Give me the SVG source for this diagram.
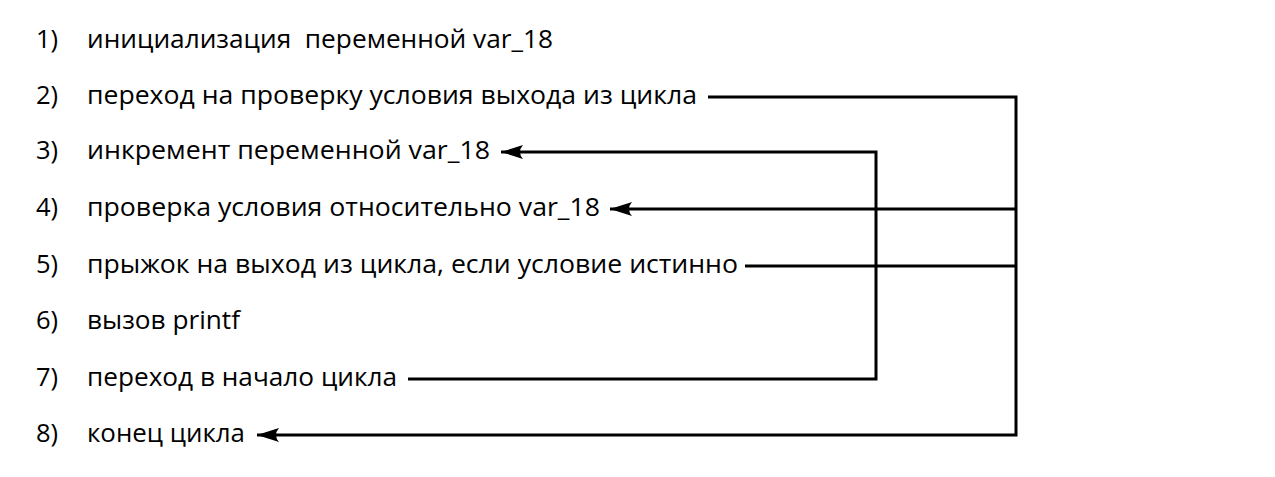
<svg xmlns="http://www.w3.org/2000/svg" width="1275" height="477" viewBox="0 0 1275 477">
<style>
text{font-family:"Open Sans","Liberation Sans",sans-serif;font-size:25.5px;fill:#000;white-space:pre}
.c{fill:none;stroke:#000;stroke-width:3}
</style>
<defs>
<marker id="ah" markerWidth="24" markerHeight="14" refX="22" refY="7" orient="auto" markerUnits="userSpaceOnUse">
<path d="M0,0 Q6,7 0,14 L22,7 Z" fill="#000"/>
</marker>
</defs>
<rect width="1275" height="477" fill="#fff"/>
<g id="n1"><text x="36" y="48">1)</text><text x="87" y="48" textLength="466" lengthAdjust="spacingAndGlyphs" xml:space="preserve">инициализация  переменной var_18</text></g>
<g id="n2"><text x="36" y="104">2)</text><text x="87" y="104" textLength="610" lengthAdjust="spacingAndGlyphs">переход на проверку условия выхода из цикла</text></g>
<g id="n3"><text x="36" y="159">3)</text><text x="87" y="159" textLength="403" lengthAdjust="spacingAndGlyphs">инкремент переменной var_18</text></g>
<g id="n4"><text x="36" y="216">4)</text><text x="87" y="216" textLength="513" lengthAdjust="spacingAndGlyphs">проверка условия относительно var_18</text></g>
<g id="n5"><text x="36" y="273">5)</text><text x="87" y="273" textLength="651" lengthAdjust="spacingAndGlyphs">прыжок на выход из цикла, если условие истинно</text></g>
<g id="n6"><text x="36" y="329">6)</text><text x="87" y="329" textLength="153" lengthAdjust="spacingAndGlyphs">вызов printf</text></g>
<g id="n7"><text x="36" y="386">7)</text><text x="87" y="386" textLength="310" lengthAdjust="spacingAndGlyphs">переход в начало цикла</text></g>
<g id="n8"><text x="36" y="442">8)</text><text x="87" y="442" textLength="158" lengthAdjust="spacingAndGlyphs">конец цикла</text></g>
<g id="connectors">
<path class="c" d="M708,97 H1016 V435 H257" marker-end="url(#ah)"/>
<path class="c" d="M1016,209 H610" marker-end="url(#ah)"/>
<path class="c" d="M745,266 H1016"/>
<path class="c" d="M408,379 H876 V152 H501" marker-end="url(#ah)"/>
</g>
</svg>
